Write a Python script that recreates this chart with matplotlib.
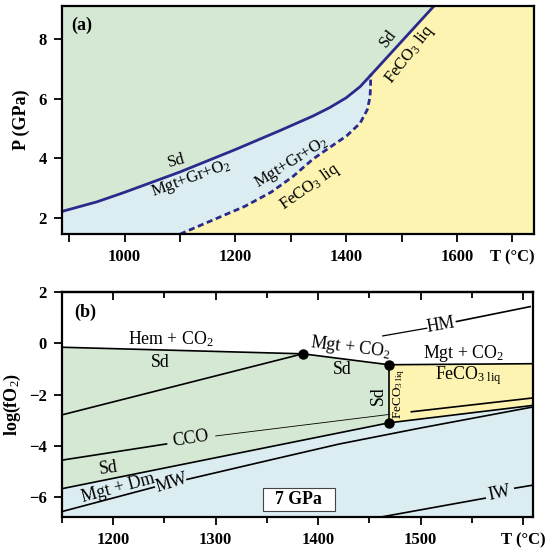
import matplotlib
matplotlib.use("Agg")
import matplotlib.pyplot as plt
from matplotlib.patches import Polygon, Rectangle
from matplotlib.ticker import MultipleLocator

plt.rcParams['font.family'] = ['Liberation Serif', 'DejaVu Serif']
plt.rcParams['mathtext.fontset'] = 'custom'
plt.rcParams['mathtext.rm'] = 'Liberation Serif'
plt.rcParams['mathtext.it'] = 'Liberation Serif:italic'
plt.rcParams['mathtext.bf'] = 'Liberation Serif:bold'

# ---- panel (a) data: P-T diagram ----
solid_T = [887, 950, 1000, 1100, 1200, 1280, 1340, 1370, 1400, 1425, 1444]
solid_P = [2.23, 2.55, 2.87, 3.55, 4.30, 4.93, 5.42, 5.70, 6.03, 6.40, 6.78]
upper_T = [1444, 1559]
upper_P = [6.78, 9.11]
dash_T = [1100, 1154, 1217, 1265, 1304, 1340, 1371, 1401, 1425, 1438, 1443, 1444, 1444]
dash_P = [1.47, 1.90, 2.40, 2.88, 3.40, 3.98, 4.38, 4.76, 5.18, 5.63, 6.05, 6.45, 6.78]

# ---- panel (b) data: log fO2 - T at 7 GPa ----
hem_T = [1150, 1385, 1469]
hem_f = [-0.16, -0.415, -0.84]
liq_top_T = [1469, 1610]
liq_top_f = [-0.84, -0.80]
left_T = [1150, 1385]
left_f = [-2.79, -0.415]
sd_T = [1150, 1469]
sd_f = [-5.66, -3.10]
liq_bot_T = [1469, 1610]
liq_bot_f = [-3.10, -2.42]
cco_T = [1150, 1252, 1300, 1470, 1491, 1610]
cco_f = [-4.55, -3.92, -3.61, -2.77, -2.67, -2.13]
mw_T = [1150, 1240, 1272, 1358, 1421, 1500, 1610]
mw_f = [-6.55, -5.60, -5.30, -4.50, -3.92, -3.30, -2.48]
hm_T = [1463, 1506, 1535, 1607]
hm_f = [0.28, 0.58, 0.84, 1.42]
iw_T = [1463, 1563, 1592, 1610]
iw_f = [-6.75, -6.03, -5.64, -5.52]
dots_T = [1385, 1469, 1469]
dots_f = [-0.415, -0.84, -3.10]

GREEN = '#d5e8d3'
BLUE = '#dcedf1'
YELLOW = '#fcf4b0'
NAVY = '#2b2a8c'

fig = plt.figure(figsize=(5.5, 5.55), dpi=100)

# ================= panel (a) =================
ax1 = fig.add_axes([62/550, 1-234/555, 472/550, 228/555])
xmin, xmax, ymin, ymax = 887, 1739, 1.475, 9.1
ax1.set_xlim(xmin, xmax)
ax1.set_ylim(ymin, ymax)
ax1.set_facecolor(YELLOW)

green_a = list(zip(solid_T, solid_P)) + list(zip(upper_T, upper_P))[1:] + [(xmin, ymax + 1), (xmin, solid_P[0])]
ax1.add_patch(Polygon(green_a, closed=True, facecolor=GREEN, edgecolor='none'))
blue_a = list(zip(solid_T, solid_P)) + list(zip(dash_T, dash_P))[::-1] + [(xmin, ymin - 1)]
ax1.add_patch(Polygon(blue_a, closed=True, facecolor=BLUE, edgecolor='none'))

ax1.plot(solid_T, solid_P, color=NAVY, lw=2.0, solid_joinstyle='round')
ax1.plot(upper_T, upper_P, color=NAVY, lw=2.0)
ax1.plot(dash_T, dash_P, color=NAVY, lw=2.0, ls=(0, (2.2, 1.3)))

fa = 12
ax1.text(923, 8.45, '(a)', fontsize=13, fontweight='bold', ha='center', va='center')
ax1.text(1093, 3.92, 'Sd', fontsize=fa, rotation=15, ha='center', va='center')
ax1.text(1120, 3.33, 'Mgt+Gr+O$_2$', fontsize=fa, rotation=20, ha='center', va='center')
ax1.text(1300, 3.87, 'Mgt+Gr+O$_2$', fontsize=fa, rotation=32, ha='center', va='center')
ax1.text(1335, 3.06, 'FeCO$_3$ liq', fontsize=fa, rotation=35, ha='center', va='center')
ax1.text(1476, 8.02, 'Sd', fontsize=fa, rotation=52, ha='center', va='center')
ax1.text(1515, 7.48, 'FeCO$_3$ liq', fontsize=fa, rotation=52, ha='center', va='center')

ax1.set_xticks(range(900, 1800, 100))
ax1.set_xticklabels(['', '1000', '', '1200', '', '1400', '', '1600', 'T (°C)'])
ax1.set_yticks([2, 4, 6, 8])
ax1.set_ylabel('P (GPa)', fontsize=13, fontweight='bold', labelpad=6)
ax1.tick_params(direction='out', length=6, width=1.3, labelsize=12, pad=5)
for lab in ax1.get_xticklabels() + ax1.get_yticklabels():
    lab.set_fontweight('bold')
for s in ax1.spines.values():
    s.set_linewidth(1.6)

# ================= panel (b) =================
ax2 = fig.add_axes([62/550, 1-516.7/555, 471.3/550, 225/555])
bxmin, bxmax, bymin, bymax = 1150, 1610, -6.75, 2
ax2.set_xlim(bxmin, bxmax)
ax2.set_ylim(bymin, bymax)

green_b = list(zip(hem_T, hem_f)) + [(dots_T[2], dots_f[2]), (sd_T[0], sd_f[0])]
ax2.add_patch(Polygon(green_b, closed=True, facecolor=GREEN, edgecolor='none'))
blue_b = list(zip(sd_T, sd_f)) + list(zip(liq_bot_T, liq_bot_f))[1:] + [(bxmax, bymin - 1), (bxmin, bymin - 1)]
ax2.add_patch(Polygon(blue_b, closed=True, facecolor=BLUE, edgecolor='none'))
yel_b = list(zip(liq_top_T, liq_top_f)) + list(zip(liq_bot_T, liq_bot_f))[::-1]
ax2.add_patch(Polygon(yel_b, closed=True, facecolor=YELLOW, edgecolor='none'))

lw = 1.2
ax2.plot(hem_T, hem_f, color='k', lw=lw)
ax2.plot(liq_top_T, liq_top_f, color='k', lw=lw)
ax2.plot(left_T, left_f, color='k', lw=lw)
ax2.plot(sd_T, sd_f, color='k', lw=lw)
ax2.plot(liq_bot_T, liq_bot_f, color='k', lw=lw)
ax2.plot([dots_T[1], dots_T[2]], [dots_f[1], dots_f[2]], color='k', lw=lw)
ax2.plot(cco_T[0:2], cco_f[0:2], color='k', lw=lw)
ax2.plot(cco_T[2:4], cco_f[2:4], color='k', lw=0.6)
ax2.plot(cco_T[4:6], cco_f[4:6], color='k', lw=lw)
ax2.plot(mw_T[0:2], mw_f[0:2], color='k', lw=lw)
ax2.plot(mw_T[2:], mw_f[2:], color='k', lw=lw)
ax2.plot(hm_T[0:2], hm_f[0:2], color='k', lw=0.9)
ax2.plot(hm_T[2:], hm_f[2:], color='k', lw=lw)
ax2.plot(iw_T[0:2], iw_f[0:2], color='k', lw=lw)
ax2.plot(iw_T[2:], iw_f[2:], color='k', lw=lw)
ax2.plot(dots_T, dots_f, 'o', color='k', ms=6.5, zorder=5)

fs = 12.8
ax2.text(1173, 1.2, '(b)', fontsize=13, fontweight='bold', ha='center', va='center')
ax2.text(1256, 0.17, 'Hem + CO$_2$', fontsize=fs, ha='center', va='center')
ax2.text(1246, -0.77, 'Sd', fontsize=fs, ha='center', va='center')
ax2.text(1431, -0.16, 'Mgt + CO$_2$', fontsize=fs, rotation=-7, ha='center', va='center')
ax2.text(1424, -1.04, 'Sd', fontsize=fs, ha='center', va='center')
ax2.text(1542, -0.41, 'Mgt + CO$_2$', fontsize=fs, ha='center', va='center')
ax2.text(1547, -1.26, r'FeCO$_{3\ \mathrm{liq}}$', fontsize=fs, ha='center', va='center')
ax2.text(1459, -2.04, 'Sd', fontsize=fs, rotation=90, ha='center', va='center')
ax2.text(1479, -1.97, r'FeCO$_{3\ \mathrm{liq}}$', fontsize=9.5, rotation=90, ha='center', va='center')
ax2.text(1276, -3.7, 'CCO', fontsize=fs, rotation=9, ha='center', va='center')
ax2.text(1195, -4.86, 'Sd', fontsize=fs, rotation=8, ha='center', va='center')
ax2.text(1205, -5.62, 'Mgt + Dm', fontsize=fs, rotation=15, ha='center', va='center')
ax2.text(1257, -5.45, 'MW', fontsize=fs, rotation=17, ha='center', va='center')
ax2.text(1520, 0.72, 'HM', fontsize=fs, rotation=10, ha='center', va='center')
ax2.text(1577, -5.85, 'IW', fontsize=fs, rotation=12, ha='center', va='center')
ax2.add_patch(Rectangle((1346, -6.54), 70, 0.9, facecolor='white', edgecolor='#444444', lw=0.8, zorder=4))
ax2.text(1381, -6.09, '7 GPa', fontsize=fs, fontweight='bold', ha='center', va='center', zorder=5)

ax2.set_xticks(range(1200, 1700, 100))
ax2.set_xticklabels(['1200', '1300', '1400', '1500', 'T (°C)'])
ax2.xaxis.set_minor_locator(MultipleLocator(50))
ax2.set_yticks([2, 0, -2, -4, -6])
ax2.set_yticklabels(['2', '0', '\u22122', '\u22124', '\u22126'])
ax2.set_ylabel('log(fO$_2$)', fontsize=13, fontweight='bold', labelpad=4)
ax2.tick_params(direction='out', length=6, width=1.3, labelsize=12, pad=5)
ax2.tick_params(which='minor', direction='out', length=4, width=1.3)
for lab in ax2.get_xticklabels() + ax2.get_yticklabels():
    lab.set_fontweight('bold')
top = ax2.secondary_xaxis('top')
top.set_xticks(range(1200, 1700, 100))
top.xaxis.set_minor_locator(MultipleLocator(50))
top.tick_params(direction='in', length=6, width=1.3, labeltop=False)
top.tick_params(which='minor', direction='in', length=4, width=1.3)
top.spines['top'].set_linewidth(1.6)
for s in ax2.spines.values():
    s.set_linewidth(1.6)

fig.savefig('out.png', dpi=100)
